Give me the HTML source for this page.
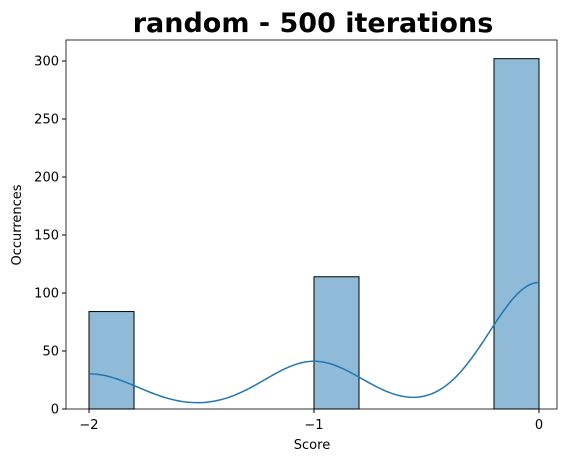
<!DOCTYPE html>
<html><head><meta charset="utf-8"><style>
body{margin:0;background:#fff;font-family:"DejaVu Sans","Liberation Sans",sans-serif}
</style></head><body>
<svg id="chart" width="571" height="463" xmlns="http://www.w3.org/2000/svg">
<text x="313" y="32" text-anchor="middle" font-size="27" font-weight="bold">random - 500 iterations</text>
<g id="bars"></g><g id="kde"></g><g id="axes"></g>
<text x="312" y="449" text-anchor="middle" font-size="13">Score</text>
<text transform="translate(21,225) rotate(-90)" text-anchor="middle" font-size="13">Occurrences</text>
</svg>
<script>
const binStarts=[-2,-1.8,-1.6,-1.4,-1.2,-1,-0.8,-0.6,-0.4,-0.2];
const counts=[84,0,0,0,0,114,0,0,0,302];
const values=[-2,-1,0];
const valueCounts=[84,114,302];
const yTicks=[0,50,100,150,200,250,300];
const xTicks=[-2,-1,0];
const xTickLabels=["\u22122","\u22121","0"];
const binWidth=0.2, bw=0.221;
const L=66,R=557,T=40,B=409;
const xs=v=>89+(v+2)*225;
const ys=v=>B-v*1.16;
const NS="http://www.w3.org/2000/svg";
function mk(tag,attrs,parent){const e=document.createElementNS(NS,tag);for(const k in attrs)e.setAttribute(k,attrs[k]);parent.appendChild(e);return e;}
const gb=document.getElementById('bars');
binStarts.forEach((s,i)=>{if(!counts[i])return;
 const r=mk('rect',{x:xs(s),y:ys(counts[i]),width:xs(s+binWidth)-xs(s),height:B-ys(counts[i]),fill:'rgba(31,119,180,0.5)',stroke:'#000','stroke-width':1},gb);
 
 });
const total=valueCounts.reduce((a,b)=>a+b,0);
let d='';
for(let k=0;k<=200;k++){const x=-2+k*0.01;let dens=0;
 values.forEach((v,i)=>{dens+=valueCounts[i]/total*Math.exp(-0.5*((x-v)/bw)**2)/(bw*Math.sqrt(2*Math.PI));});
 const y=dens*total*binWidth;d+=(k?'L':'M')+xs(x).toFixed(2)+','+ys(y).toFixed(2);}
const kp=mk('path',{d:d,fill:'none',stroke:'#1f77b4','stroke-width':1.5},document.getElementById('kde'));


const ga=document.getElementById('axes');
mk('rect',{x:L,y:T,width:R-L,height:B-T,fill:'none',stroke:'#000','stroke-width':0.8},ga);
yTicks.forEach(t=>{mk('line',{x1:L-4,x2:L,y1:ys(t),y2:ys(t),stroke:'#000'},ga);
 const tx=mk('text',{x:L-7,y:ys(t)+4.5,'text-anchor':'end','font-size':13},ga);tx.textContent=t;
 
 });
xTicks.forEach((t,i)=>{mk('line',{x1:xs(t),x2:xs(t),y1:B,y2:B+4,stroke:'#000'},ga);
 const tx=mk('text',{x:xs(t),y:B+20,'text-anchor':'middle','font-size':13},ga);tx.textContent=xTickLabels[i];
 
 });
</script>
</body></html>
